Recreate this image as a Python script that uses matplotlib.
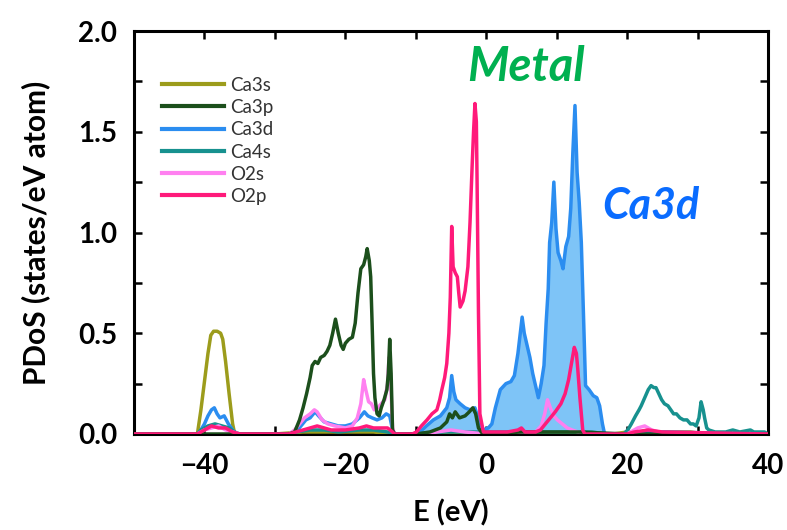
import matplotlib
matplotlib.use("Agg")
import matplotlib.pyplot as plt
import numpy as np

# Projected density of states, energy in eV relative to the Fermi level
ca3s_e = [-50, -41.0, -40.5, -40.0, -39.5, -39.1, -38.7, -38.2, -37.7, -37.4, -37.0, -36.5, -36.0, -35.7,
          -30, -26, -24, -20, -16, -13.3, -10, 0, 10, 18, 20, 23, 26, 29, 31, 40]
ca3s_v = [0, 0, 0.12, 0.26, 0.40, 0.49, 0.51, 0.51, 0.50, 0.47, 0.36, 0.20, 0.05, 0.0,
          0, 0.01, 0.01, 0.01, 0.01, 0, 0, 0, 0, 0, 0.01, 0.01, 0.01, 0.01, 0, 0]

ca3p_e = [-50, -28, -27.2, -26.5, -26.0, -25.5, -25.0, -24.7, -24.3, -23.9, -23.5, -23.0, -22.6, -22.2,
          -21.8, -21.4, -21.0, -20.6, -20.3, -20.0, -19.5, -19.0, -18.6, -18.2, -17.8, -17.4, -17.1,
          -16.9, -16.6, -16.4, -16.2, -16.0, -15.8, -15.5, -15.2, -14.9, -14.5, -14.1, -13.9, -13.7,
          -13.5, -13.3, -13.0, -10, -8, -6.5, -5.6, -5.2, -4.8, -4.4, -3.8, -3.0, -2.4, -1.9, -1.5,
          -1.1, -0.5, 5, 10, 13, 20, 40]
ca3p_v = [0, 0, 0.01, 0.07, 0.13, 0.20, 0.28, 0.34, 0.36, 0.35, 0.38, 0.39, 0.41, 0.44,
          0.50, 0.57, 0.50, 0.44, 0.42, 0.45, 0.47, 0.48, 0.55, 0.70, 0.82, 0.84, 0.88,
          0.92, 0.86, 0.78, 0.55, 0.30, 0.18, 0.10, 0.09, 0.13, 0.17, 0.22, 0.30, 0.47,
          0.30, 0.02, 0, 0, 0.01, 0.03, 0.06, 0.10, 0.08, 0.11, 0.08, 0.09, 0.11, 0.13, 0.10,
          0.03, 0.0, 0.01, 0.01, 0.01, 0, 0]

ca3d_e = [-50, -41, -40.5, -40, -39.5, -39, -38.6, -38.2, -37.8, -37.2, -36.6, -36, -35.5,
          -28, -27, -26.3, -25.6, -25, -24.3, -23.8, -23, -22, -21, -20, -19, -18, -17.3, -16.8,
          -16.2, -15.5, -14.8, -14.2, -13.7, -13.3, -13, -10, -9.4, -8.5, -7.5, -6.5, -5.6, -5.2,
          -4.9, -4.6, -4.3, -3.7, -3.0, -2.3, -1.6, -1.1, -0.4, 0.3, 0.8, 1.3, 2.0, 2.8, 3.5, 4.0,
          4.5, 5.1, 5.4, 5.8, 6.2, 6.6, 7.0, 7.4, 7.8, 8.2, 8.5, 8.8, 9.0, 9.3, 9.6, 9.9, 10.2,
          10.6, 10.9, 11.3, 11.7, 12.0, 12.3, 12.6, 12.9, 13.2, 13.5, 13.8, 14.1, 14.6, 15.2,
          15.7, 16.1, 16.5, 16.8, 20, 22, 25, 40]
ca3d_v = [0, 0, 0.02, 0.05, 0.09, 0.12, 0.13, 0.10, 0.08, 0.09, 0.05, 0.02, 0,
          0, 0.01, 0.04, 0.07, 0.08, 0.11, 0.09, 0.06, 0.05, 0.04, 0.04, 0.05, 0.08, 0.11, 0.09,
          0.08, 0.07, 0.08, 0.10, 0.09, 0.02, 0, 0, 0.01, 0.04, 0.07, 0.09, 0.13, 0.18,
          0.29, 0.21, 0.17, 0.15, 0.13, 0.12, 0.13, 0.07, 0.02, 0.03, 0.05, 0.13, 0.22, 0.25, 0.26, 0.29,
          0.40, 0.58, 0.50, 0.44, 0.38, 0.30, 0.24, 0.18, 0.25, 0.34, 0.55, 0.72, 0.95, 1.05, 1.25, 1.02, 0.90,
          0.86, 0.82, 0.93, 0.98, 1.12, 1.40, 1.63, 1.30, 1.15, 0.95, 0.60, 0.24, 0.22, 0.19,
          0.18, 0.14, 0.05, 0.0, 0, 0.01, 0.01, 0]

ca4s_e = [-50, -41, -40.5, -39.5, -38.5, -37.5, -36.5, -35.7, -35, -28, -27, -25, -23, -21, -18, -16,
          -14, -13, -10, -6, -3, 0, 3, 6, 9, 12, 15, 17, 19.5, 20.1, 20.6, 21.2, 21.7, 22.0, 22.5,
          23.0, 23.4, 23.8, 24.1, 24.5, 24.9, 25.3, 25.8, 26.2, 26.6, 27.0, 27.5, 28.0, 28.5, 29.0,
          29.4, 29.8, 30.2, 30.5, 30.8, 31.0, 31.3, 31.6, 32.5, 34, 35, 36, 37.5, 38, 39.5, 40]
ca4s_v = [0, 0, 0.02, 0.04, 0.05, 0.04, 0.03, 0.01, 0, 0, 0.01, 0.02, 0.02, 0.01, 0.02, 0.02,
          0.01, 0, 0, 0.01, 0.01, 0.01, 0.01, 0.01, 0.01, 0.01, 0.01, 0, 0, 0.02, 0.05, 0.09, 0.12, 0.14, 0.18,
          0.22, 0.24, 0.23, 0.23, 0.20, 0.17, 0.15, 0.14, 0.12, 0.10, 0.10, 0.08, 0.07, 0.07, 0.05,
          0.05, 0.04, 0.08, 0.16, 0.12, 0.08, 0.03, 0.02, 0.01, 0.01, 0.02, 0.01, 0.02, 0.01, 0.01, 0]

o2s_e = [-50, -41, -40, -39, -38, -37, -36, -35, -28, -27.2, -26.5, -25.8, -25.0, -24.4, -24.0, -23.3,
         -22.5, -21.5, -20, -19, -18.3, -17.8, -17.4, -17.1, -16.7, -16.3, -15.9, -15.4, -14.9, -14.4,
         -14.0, -13.8, -13.6, -13.3, -13, -9, -7, -5, -3, 0, 5, 7, 7.8, 8.3, 8.7, 9.1, 9.6, 10.1,
         10.8, 11.5, 12.2, 13, 14, 20, 20.5, 21.5, 22.5, 23.5, 24.5, 26, 40]
o2s_v = [0, 0, 0.02, 0.03, 0.04, 0.02, 0.01, 0, 0, 0.02, 0.05, 0.08, 0.10, 0.12, 0.11, 0.07,
         0.05, 0.04, 0.03, 0.04, 0.08, 0.15, 0.27, 0.22, 0.16, 0.15, 0.12, 0.13, 0.15, 0.17,
         0.25, 0.38, 0.30, 0.03, 0, 0, 0.01, 0.02, 0.01, 0, 0.01, 0.01, 0.04, 0.10, 0.17, 0.13, 0.09, 0.07,
         0.05, 0.03, 0.02, 0.01, 0, 0, 0.01, 0.03, 0.04, 0.02, 0.01, 0, 0]

o2p_e = [-50, -41, -40, -39, -38, -37, -36, -35, -28, -27, -26, -25, -24, -23, -22, -20, -18, -17,
         -16, -15, -14, -13.3, -13, -10.5, -9.9, -9.2, -8.4, -7.7, -7.0, -6.6, -6.3, -5.9, -5.6,
         -5.3, -5.1, -4.9, -4.7, -4.4, -4.1, -3.9, -3.7, -3.3, -3.0, -2.6, -2.3, -2.0, -1.8, -1.6,
         -1.4, -1.3, -1.1, -0.9, -0.4, 1, 3, 4.5, 5, 5.5, 7, 7.7, 8.4, 9.1, 9.8, 10.6, 11.2, 11.7,
         12.1, 12.5, 12.8, 13.0, 13.3, 13.7, 14, 20, 21, 23, 25, 40]
o2p_v = [0, 0, 0.02, 0.04, 0.03, 0.03, 0.01, 0, 0, 0.01, 0.02, 0.03, 0.04, 0.03, 0.02, 0.02, 0.03, 0.04,
         0.03, 0.03, 0.03, 0.01, 0, 0, 0.01, 0.04, 0.07, 0.10, 0.12, 0.17, 0.22, 0.28, 0.35,
         0.50, 0.68, 1.03, 0.83, 0.80, 0.78, 0.70, 0.63, 0.66, 0.71, 0.83, 1.05, 1.33, 1.50, 1.64,
         1.55, 1.26, 0.60, 0.10, 0.01, 0.01, 0.01, 0.02, 0.03, 0.01, 0.01, 0.02, 0.05, 0.08, 0.11, 0.15, 0.20, 0.27,
         0.35, 0.43, 0.40, 0.32, 0.18, 0.02, 0, 0, 0.01, 0.02, 0.01, 0]

series = [
    ("Ca3s", ca3s_e, ca3s_v, "#9c9c1c"),
    ("Ca3p", ca3p_e, ca3p_v, "#1c4f1c"),
    ("Ca3d", ca3d_e, ca3d_v, "#2b8df0"),
    ("Ca4s", ca4s_e, ca4s_v, "#17918f"),
    ("O2s", o2s_e, o2s_v, "#ff80f0"),
    ("O2p", o2p_e, o2p_v, "#ff1a7a"),
]
zorders = {"Ca3s": 3, "Ca3p": 5, "Ca3d": 3, "Ca4s": 3, "O2s": 4, "O2p": 6}

fill_range = (-10, 18)

plt.rcParams["font.family"] = ["Lato", "DejaVu Sans"]

fig = plt.figure(figsize=(7.87, 5.30), dpi=100)
ax = fig.add_axes([134 / 787, 96 / 530, 634 / 787, 403 / 530])

# Shaded Ca3d band around the Fermi level
e3d = np.array(ca3d_e, dtype=float)
v3d = np.array(ca3d_v, dtype=float)
mask = (e3d >= fill_range[0]) & (e3d <= fill_range[1])
ax.fill_between(e3d[mask], 0, v3d[mask], color="#7ec4f7", lw=0, zorder=2)

for name, e, v, c in series:
    ax.plot(e, v, color=c, lw=2.5, label=name, zorder=zorders[name],
            solid_joinstyle="round")

ax.set_xlim(-50, 40)
ax.set_ylim(0, 2.0)
ax.set_xticks([-40, -20, 0, 20, 40])
ax.set_xticks(np.arange(-50, 41, 10), minor=True)
ax.set_yticks([0.0, 0.5, 1.0, 1.5, 2.0])
ax.set_yticks(np.arange(0, 2.01, 0.25), minor=True)
ax.set_yticklabels(["0.0", "0.5", "1.0", "1.5", "2.0"])
ax.tick_params(which="both", direction="in", top=True, right=True, width=1.8)
ax.tick_params(which="major", length=6, labelsize=20)
ax.tick_params(axis="x", which="major", pad=14)
ax.tick_params(axis="y", which="major", pad=12)
ax.tick_params(which="minor", length=6)
for lab in ax.get_xticklabels() + ax.get_yticklabels():
    lab.set_fontweight("bold")
for sp in ax.spines.values():
    sp.set_linewidth(2.2)

ax.set_xlabel("E (eV)", fontsize=21, fontweight="bold", labelpad=14)
ax.set_ylabel("PDoS (states/eV atom)", fontsize=21.5, fontweight="bold", labelpad=20)

leg = ax.legend(loc="upper left", bbox_to_anchor=(0.033, 0.905), frameon=False,
                fontsize=13.5, handlelength=3.3, handletextpad=0.3, labelspacing=0.28,
                borderaxespad=0)
for t in leg.get_texts():
    t.set_color("#333333")
for h in leg.get_lines():
    h.set_linewidth(3)

ax.text(5.6, 1.82, "Metal", color="#00b050", fontsize=34, fontweight="bold",
        fontstyle="italic", ha="center", va="center")
ax.text(23.4, 1.13, "Ca3d", color="#0a6cff", fontsize=31, fontweight="bold",
        fontstyle="italic", ha="center", va="center")

fig.savefig("out.png", dpi=100)
